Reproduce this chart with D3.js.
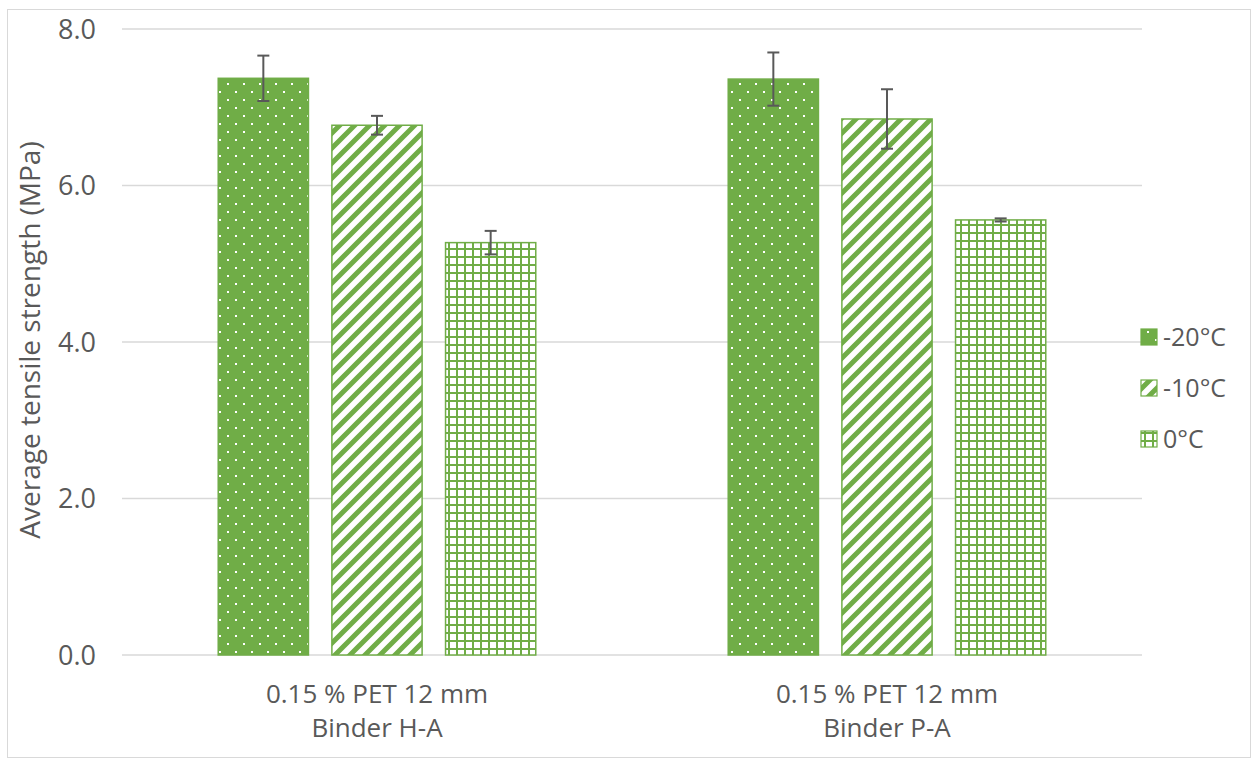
<!DOCTYPE html>
<html><head><meta charset="utf-8">
<script src="https://cdn.jsdelivr.net/npm/d3@7"></script>
<style>body{margin:0;background:#fff}svg{display:block}text{font-family:"Open Sans","Noto Sans",sans-serif;fill:#595959}</style>
</head><body>
<svg id="c" width="1252" height="759"></svg>
<script>
const categories = [["0.15 % PET 12 mm","Binder H-A"],["0.15 % PET 12 mm","Binder P-A"]];
const seriesNames = ["-20°C","-10°C","0°C"];
const values = [[7.37,6.77,5.27],[7.36,6.85,5.56]];
const errors = [[0.29,0.12,0.15],[0.34,0.38,0.02]];
const yTicks = [0,2,4,6,8];
const yLabel = "Average tensile strength (MPa)";

const green = "#70AD47";
const svg = d3.select("#c");
svg.append("rect").attr("x",7.5).attr("y",9.5).attr("width",1243).attr("height",748).attr("fill","#fff").attr("stroke","#d9d9d9");

const defs = svg.append("defs");
let p = defs.append("pattern").attr("id","p0").attr("patternUnits","userSpaceOnUse").attr("width",16).attr("height",16);
p.append("rect").attr("width",16).attr("height",16).attr("fill",green);
p.append("rect").attr("x",3).attr("y",3).attr("width",2).attr("height",2).attr("fill","#fff");
p.append("rect").attr("x",11).attr("y",11).attr("width",2).attr("height",2).attr("fill","#fff");
p = defs.append("pattern").attr("id","p1").attr("patternUnits","userSpaceOnUse").attr("width",15).attr("height",15);
p.append("rect").attr("width",15).attr("height",15).attr("fill","#fff");
p.append("path").attr("d","M-4,19 L19,-4 M-4,4 L4,-4 M11,19 L19,11").attr("stroke",green).attr("stroke-width",5);
p = defs.append("pattern").attr("id","p2").attr("patternUnits","userSpaceOnUse").attr("width",8).attr("height",8);
p.append("rect").attr("width",8).attr("height",8).attr("fill","#fff");
p.append("path").attr("d","M0,1 H8 M1,0 V8").attr("stroke",green).attr("stroke-width",2);

const x0 = d3.scaleBand().domain(d3.range(categories.length)).range([122,1142]);
const x1 = d3.scaleBand().domain(d3.range(seriesNames.length)).range([0,x0.bandwidth()]).paddingInner(0.193).paddingOuter(0.84);
const y = d3.scaleLinear().domain([0,8]).range([655,29]);

const g = svg.append("g");
g.selectAll("line.grid").data(yTicks).join("line").attr("x1",122).attr("x2",1142)
  .attr("y1",d=>y(d)).attr("y2",d=>y(d)).attr("stroke","#d9d9d9").attr("stroke-width",1.3);
g.selectAll("text.yt").data(yTicks).join("text").attr("x",96).attr("y",d=>y(d)+9.5)
  .attr("text-anchor","end").attr("font-size",27).text(d=>d.toFixed(1));

categories.forEach((cat,ci)=>{
  values[ci].forEach((v,si)=>{
    const bx = x0(ci)+x1(si), bw = x1.bandwidth();
    g.append("rect").attr("x",bx+0.75).attr("y",y(v)).attr("width",bw-1.5).attr("height",y(0)-y(v))
      .attr("fill",`url(#p${si})`).attr("stroke",green).attr("stroke-width",1.5);
    const cx = bx+bw/2, e = errors[ci][si];
    const eg = g.append("g").attr("stroke","#595959").attr("stroke-width",2);
    eg.append("line").attr("x1",cx).attr("x2",cx).attr("y1",y(v+e)).attr("y2",y(v-e));
    eg.append("line").attr("x1",cx-6).attr("x2",cx+6).attr("y1",y(v+e)).attr("y2",y(v+e));
    eg.append("line").attr("x1",cx-6).attr("x2",cx+6).attr("y1",y(v-e)).attr("y2",y(v-e));
  });
  const cx = x0(ci)+x0.bandwidth()/2;
  cat.forEach((line,li)=>{
    g.append("text").attr("x",cx).attr("y",703+li*34).attr("text-anchor","middle").attr("font-size",26).text(line);
  });
});

svg.append("text").attr("transform","translate(40,340) rotate(-90)").attr("text-anchor","middle").attr("font-size",28).text(yLabel);

const legY = [337,388,439];
seriesNames.forEach((s,i)=>{
  svg.append("rect").attr("x",1141).attr("y",legY[i]-8).attr("width",16).attr("height",16)
    .attr("fill",`url(#p${i})`).attr("stroke",green).attr("stroke-width",1.2);
  svg.append("text").attr("x",1163).attr("y",legY[i]+9).attr("font-size",25).text(s);
});
</script>
</body></html>
